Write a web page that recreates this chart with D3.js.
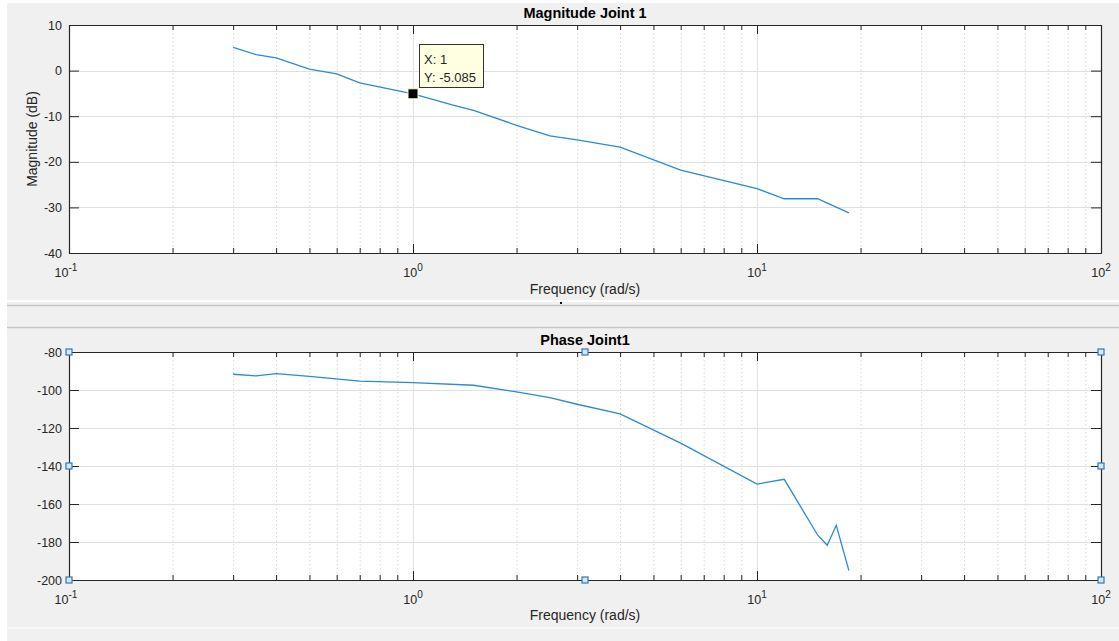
<!DOCTYPE html>
<html lang="en">
<head>
  <meta charset="UTF-8" />
  <title>Bode Joint 1</title>
  <script src="https://d3js.org/d3.v7.min.js"></script>
  <style>
    body { margin: 0; background: #fff; }
    svg { display: block; font-family: "Liberation Sans", Arial, sans-serif; }
    .tick text { fill: #262626; }
  </style>
</head>
<body>
  <svg width="1119" height="641"></svg>
  <script>
    // magnitude response
    const magFreq = [0.3, 0.35, 0.4, 0.5, 0.6, 0.7, 1, 1.3, 1.5, 2, 2.5, 3, 4, 6, 10, 12, 15, 18.5];
    const magDb = [5.1, 3.5, 2.8, 0.3, -0.7, -2.7, -5.085, -7.5, -8.7, -12, -14.3, -15.2, -16.8, -21.8, -25.9, -28.1, -28.1, -31.2];

    // phase response
    const phaseFreq = [0.3, 0.35, 0.4, 0.5, 0.7, 1, 1.5, 2, 2.5, 3, 4, 6, 10, 12, 15, 16, 17, 18.5];
    const phaseDeg = [-91.7, -92.6, -91.4, -92.8, -95.3, -96.1, -97.5, -101, -104, -107.5, -112.6, -128, -149.5, -147, -176.3, -181.7, -171.2, -195.1];

    const freqDecades = [-1, 0, 1, 2];
    const magTicks = [-40, -30, -20, -10, 0, 10];
    const phaseTicks = [-200, -180, -160, -140, -120, -100, -80];

    const svg = d3.select("svg");
    const lineColor = "#2c89d4";
    const axisColor = "#262626";

    // figure backgrounds (two stacked figure windows)
    svg.append("rect").attr("x", 7).attr("y", 3).attr("width", 1112).attr("height", 297).attr("fill", "#f0f0f0");
    svg.append("rect").attr("x", 7).attr("y", 302).attr("width", 1112).attr("height", 339).attr("fill", "#f0f0f0");
    svg.append("line").attr("x1", 7).attr("x2", 1119).attr("y1", 305.5).attr("y2", 305.5).attr("stroke", "#c6c6c6").attr("stroke-width", 1.5);
    svg.append("line").attr("x1", 7).attr("x2", 1119).attr("y1", 327.5).attr("y2", 327.5).attr("stroke", "#c6c6c6").attr("stroke-width", 1.5);
    svg.append("line").attr("x1", 7).attr("x2", 1119).attr("y1", 628).attr("y2", 628).attr("stroke", "#fafafa").attr("stroke-width", 1.5);
    svg.append("rect").attr("x", 560).attr("y", 302).attr("width", 2).attr("height", 2).attr("fill", "#111");

    const x = d3.scaleLog().domain([0.1, 100]).range([69, 1101]);
    const minorFreqs = [];
    freqDecades.slice(0, -1).forEach(e => {
      for (let m = 2; m <= 9; m++) minorFreqs.push(m * Math.pow(10, e));
    });
    const majorFreqs = freqDecades.map(e => Math.pow(10, e));

    function drawPanel(opt) {
      const y = d3.scaleLinear().domain(opt.domain).range([opt.bottom, opt.top]);
      const g = svg.append("g");
      const left = x.range()[0], right = x.range()[1];

      g.append("rect").attr("x", left).attr("y", opt.top)
        .attr("width", right - left).attr("height", opt.bottom - opt.top).attr("fill", "#fff");

      // grid
      g.append("g").selectAll("line").data(minorFreqs).join("line")
        .attr("x1", d => x(d) + 0.5).attr("x2", d => x(d) + 0.5)
        .attr("y1", opt.top).attr("y2", opt.bottom)
        .attr("stroke", "#d6d6d6").attr("stroke-dasharray", "1.5,2.5");
      g.append("g").selectAll("line").data(majorFreqs.slice(1, -1)).join("line")
        .attr("x1", d => x(d) + 0.5).attr("x2", d => x(d) + 0.5)
        .attr("y1", opt.top).attr("y2", opt.bottom)
        .attr("stroke", "#e0e0e0");
      g.append("g").selectAll("line").data(opt.ticks.slice(1, -1)).join("line")
        .attr("x1", left).attr("x2", right)
        .attr("y1", d => Math.round(y(d)) + 0.5).attr("y2", d => Math.round(y(d)) + 0.5)
        .attr("stroke", "#e0e0e0");

      // curve
      const pts = opt.freq.map((f, i) => [f, opt.vals[i]]);
      g.append("path").datum(pts)
        .attr("fill", "none").attr("stroke", lineColor).attr("stroke-width", 1.3)
        .attr("d", d3.line().x(d => x(d[0])).y(d => y(d[1])));

      // axes with inward ticks
      const axB = d3.axisBottom(x).tickValues(majorFreqs).tickSizeInner(-9).tickSizeOuter(0).tickFormat("");
      const axBm = d3.axisBottom(x).tickValues(minorFreqs).tickSizeInner(-5).tickSizeOuter(0).tickFormat("");
      const axT = d3.axisTop(x).tickValues(majorFreqs).tickSizeInner(-9).tickSizeOuter(0).tickFormat("");
      const axTm = d3.axisTop(x).tickValues(minorFreqs).tickSizeInner(-5).tickSizeOuter(0).tickFormat("");
      const axL = d3.axisLeft(y).tickValues(opt.ticks).tickSizeInner(-10).tickSizeOuter(0)
        .tickPadding(7).tickFormat(d => String(d));
      const axR = d3.axisRight(y).tickValues(opt.ticks).tickSizeInner(-10).tickSizeOuter(0).tickFormat("");

      [[axB, `translate(0,${opt.bottom})`], [axBm, `translate(0,${opt.bottom})`],
       [axT, `translate(0,${opt.top})`], [axTm, `translate(0,${opt.top})`],
       [axL, `translate(${left},0)`], [axR, `translate(${right},0)`]].forEach(([ax, tr]) => {
        const a = g.append("g").attr("transform", tr).call(ax);
        a.selectAll("line,path").attr("stroke", axisColor);
        a.select(".domain").attr("stroke-width", 1.2);
        a.selectAll("text").attr("font-size", 12.5).attr("fill", axisColor);
      });

      // log labels 10^n
      const lab = g.append("g").selectAll("text").data(freqDecades).join("text")
        .attr("x", d => x(Math.pow(10, d)) + (d < 0 ? -3 : 0))
        .attr("y", opt.bottom + 24)
        .attr("text-anchor", "middle")
        .attr("font-size", 12.5).attr("fill", axisColor);
      lab.append("tspan").text("10");
      lab.append("tspan").attr("dy", -6).attr("font-size", 10).text(d => d);

      g.append("text").attr("x", (left + right) / 2).attr("y", opt.titleY)
        .attr("text-anchor", "middle").attr("font-weight", "bold").attr("font-size", 14.5)
        .attr("fill", "#000").text(opt.title);
      g.append("text").attr("x", (left + right) / 2).attr("y", opt.xlabelY)
        .attr("text-anchor", "middle").attr("font-size", 14)
        .attr("fill", axisColor).text("Frequency (rad/s)");
      if (opt.ylabel) {
        g.append("text").attr("transform", `translate(37,${(opt.top + opt.bottom) / 2}) rotate(-90)`)
          .attr("text-anchor", "middle").attr("font-size", 14)
          .attr("fill", axisColor).text(opt.ylabel);
      }
      return { g, y };
    }

    const mag = drawPanel({
      freq: magFreq, vals: magDb, domain: [-40, 10], ticks: magTicks,
      top: 25, bottom: 253, title: "Magnitude Joint 1", titleY: 18, xlabelY: 294, ylabel: "Magnitude (dB)"
    });

    const ph = drawPanel({
      freq: phaseFreq, vals: phaseDeg, domain: [-200, -80], ticks: phaseTicks,
      top: 352, bottom: 580, title: "Phase Joint1", titleY: 345, xlabelY: 620
    });

    // data tip at X = 1
    const tipF = magFreq[6], tipV = magDb[6];
    const tx = x(tipF), ty = mag.y(tipV);
    svg.append("rect").attr("x", tx - 5).attr("y", ty - 5).attr("width", 10).attr("height", 10)
      .attr("fill", "#000").attr("stroke", "#fffbd0").attr("stroke-width", 1);
    svg.append("rect").attr("x", 419.5).attr("y", 44.5).attr("width", 64).attr("height", 43)
      .attr("fill", "#ffffe1").attr("stroke", "#333");
    svg.append("text").attr("x", 424).attr("y", 64).attr("font-size", 13).attr("fill", axisColor).text(`X: ${tipF}`);
    svg.append("text").attr("x", 424).attr("y", 82).attr("font-size", 13).attr("fill", axisColor).text(`Y: ${tipV}`);

    // edit handles on the phase axes
    const hx = [x(0.1), x(Math.sqrt(10)), x(100)];
    const hy = [ph.y(-80), ph.y(-140), ph.y(-200)];
    const handles = [];
    hx.forEach((a, i) => hy.forEach((b, j) => { if (!(i === 1 && j === 1)) handles.push([a, b]); }));
    svg.append("g").selectAll("rect").data(handles).join("rect")
      .attr("x", d => d[0] - 3).attr("y", d => d[1] - 3).attr("width", 6).attr("height", 6)
      .attr("fill", "#d6e8f7").attr("stroke", "#2a78c0").attr("stroke-width", 1.2);
  </script>
</body>
</html>
